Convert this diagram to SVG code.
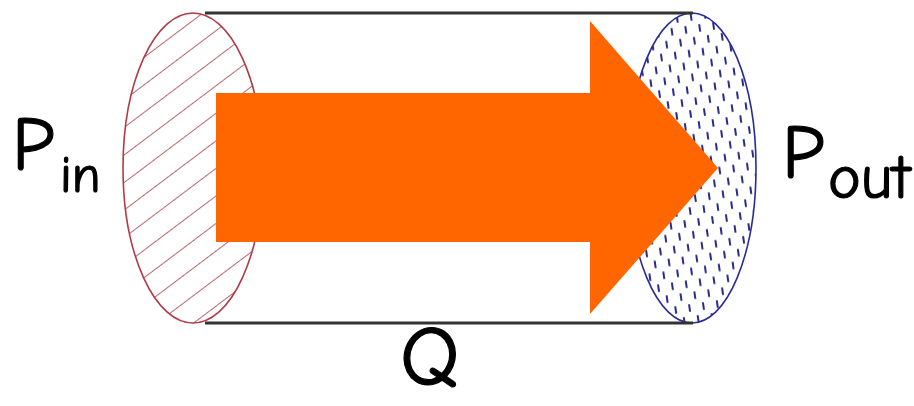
<svg xmlns="http://www.w3.org/2000/svg" width="914" height="406" viewBox="0 0 914 406">
  <defs>
    <style>
      .tube { stroke: #333; stroke-width: 3; fill: none; }
      .lbl { font-family: "Comic Neue", "DejaVu Sans", "Liberation Sans", sans-serif; fill: #000; stroke: #000; stroke-width: 1.2; stroke-linejoin: round; }
    </style>
    <pattern id="hatch" width="22" height="22" patternUnits="userSpaceOnUse" patternTransform="rotate(53)">
      <line x1="0" y1="0" x2="0" y2="22" stroke="#a3343f" stroke-width="1.5"/>
    </pattern>
    <pattern id="dots" width="14" height="24" patternUnits="userSpaceOnUse" patternTransform="rotate(-8)">
      <line x1="3" y1="2" x2="3" y2="8" stroke="#2a2a8a" stroke-width="2" stroke-linecap="round"/>
      <line x1="10" y1="14" x2="10" y2="20" stroke="#2a2a8a" stroke-width="2" stroke-linecap="round"/>
    </pattern>
  </defs>

  <rect width="914" height="406" fill="#fff"/>

  <!-- inlet face -->
  <g id="inlet">
    <ellipse cx="193" cy="168" rx="70" ry="155" fill="url(#hatch)" stroke="#b03a48" stroke-width="1.6"/>
  </g>

  <!-- outlet face -->
  <g id="outlet">
    <ellipse cx="692" cy="168" rx="64" ry="155" fill="url(#dots)" stroke="#2a2a9a" stroke-width="1.6"/>
  </g>

  <!-- pipe walls -->
  <g id="pipe">
    <line class="tube" x1="205" y1="13" x2="693" y2="13"/>
    <line class="tube" x1="205" y1="323" x2="693" y2="323"/>
  </g>

  <!-- flow arrow -->
  <g id="flow">
    <polygon points="216,93 590,93 590,21 718,168 590,314 590,242 216,242" fill="#ff6600"/>
  </g>

  <!-- labels -->
  <g id="labels">
    <text class="lbl" font-size="76" x="12" y="170">P</text>
    <text class="lbl" font-size="52" x="60" y="192">in</text>
    <text class="lbl" font-size="76" x="782" y="178">P</text>
    <text class="lbl" font-size="62" x="828" y="198">out</text>
    <text class="lbl" font-size="84" x="400" y="385">Q</text>
  </g>
</svg>
